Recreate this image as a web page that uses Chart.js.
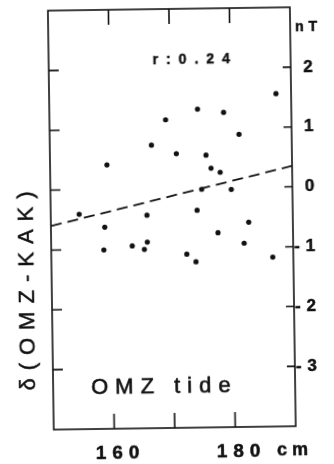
<!DOCTYPE html>
<html>
<head>
<meta charset="utf-8">
<script src="https://cdn.jsdelivr.net/npm/chart.js@4.4.1/dist/chart.umd.min.js"></script>
<style>
  html, body { margin: 0; padding: 0; background: #fff; }
  #wrap { width: 334px; height: 464px; overflow: hidden; }
  #tideChart { transform: rotate(-0.8deg); transform-origin: 50% 50%; }
</style>
</head>
<body>
<div id="wrap"><canvas id="tideChart" width="334" height="464"></canvas></div>
<script>
// tide height at OMZ (cm) vs difference OMZ-KAK (nT)
const tideCm = [169.2, 166.8, 159.4, 170.9, 187.5, 174.5, 178.8, 181.3, 175.8, 176.6, 178.1,
                154.7, 165.9, 158.9, 158.7, 163.4, 165.9, 165.4,
                175.0, 179.9, 174.2, 182.7, 177.6, 181.9, 172.4, 173.9, 186.6];
const deltaNt = [1.15, 0.73, 0.41, 0.58, 1.56, 1.32, 1.26, 0.89, 0.55, 0.33, 0.26,
                 -0.41, -0.44, -0.63, -1.01, -0.95, -0.89, -1.01,
                 -0.02, -0.03, -0.37, -0.58, -0.75, -0.93, -1.10, -1.23, -1.17];

// regression line (dashed)
const fitX = [150, 190];
const fitY = [-0.60, 0.35];

const xTickMarks = [160, 170, 180];
const xTickLabels = [160, 180];
const yTickMarks = [2, 1, 0, -1, -2, -3];

const INK = '#111';
const FONT = '"Liberation Sans", Arial, sans-serif';

const points = tideCm.map((x, i) => ({ x: x, y: deltaNt[i] }));
const fitLine = fitX.map((x, i) => ({ x: x, y: fitY[i] }));

function heavyText(ctx, txt, x, y, w) {
    ctx.fillText(txt, x, y);
    ctx.lineWidth = w;
    ctx.strokeText(txt, x, y);
}

// keep the plot box fixed, labels may overhang it
function fixBox(s) {
    s.paddingTop = 0; s.paddingBottom = 0;
    s.paddingLeft = 0; s.paddingRight = 0;
}

const framePlugin = {
    id: 'frame',
    beforeDraw(chart) {
        chart.ctx.letterSpacing = '6px';
    },
    beforeDatasetsDraw(chart) {
        chart.ctx.letterSpacing = '0px';
    },
    afterDraw(chart) {
        const ctx = chart.ctx;
        const { left, right, top, bottom } = chart.chartArea;
        const xs = chart.scales.x, ys = chart.scales.y;
        ctx.save();
        ctx.strokeStyle = INK;
        ctx.lineWidth = 1.6;
        ctx.strokeRect(left, top, right - left, bottom - top);

        // inward ticks
        ctx.beginPath();
        xTickMarks.forEach(v => {
            const px = xs.getPixelForValue(v);
            ctx.moveTo(px, top); ctx.lineTo(px, top + 15);
            ctx.moveTo(px, bottom); ctx.lineTo(px, bottom - 15);
        });
        yTickMarks.forEach(v => {
            const py = ys.getPixelForValue(v);
            ctx.moveTo(left, py); ctx.lineTo(left + 10, py);
            ctx.moveTo(right, py); ctx.lineTo(right - 8, py);
        });
        ctx.stroke();

        // annotations
        ctx.fillStyle = INK;
        ctx.textAlign = 'left';
        ctx.textBaseline = 'alphabetic';
        ctx.font = `bold 14px ${FONT}`;
        ctx.letterSpacing = '8px';
        heavyText(ctx, 'r:0.24', 155, 64, 0.5);
        ctx.letterSpacing = '5px';
        heavyText(ctx, 'nT', 298, 33, 0.5);
        ctx.font = `bold 18px ${FONT}`;
        heavyText(ctx, 'cm', 274, 457, 0.5);

        ctx.font = `22px ${FONT}`;
        ctx.letterSpacing = '7px';
        heavyText(ctx, 'OMZ tide', 89, 393, 0.6);

        ctx.translate(33, 289);
        ctx.rotate(-Math.PI / 2);
        ctx.font = `22px ${FONT}`;
        ctx.letterSpacing = '8px';
        ctx.textAlign = 'center';
        heavyText(ctx, 'δ(OMZ-KAK)', 4, 0, 0.5);
        ctx.restore();
        ctx.letterSpacing = '0px';
    }
};

new Chart(document.getElementById('tideChart'), {
    type: 'scatter',
    data: {
        datasets: [
            {
                data: points,
                pointRadius: 2.6,
                pointBackgroundColor: INK,
                pointBorderWidth: 0
            },
            {
                data: fitLine,
                showLine: true,
                borderColor: INK,
                borderWidth: 1.8,
                borderDash: [11, 6],
                pointRadius: 0
            }
        ]
    },
    options: {
        responsive: false,
        animation: false,
        events: [],
        layout: { padding: { left: 51, top: 9, right: 13, bottom: 0 } },
        plugins: { legend: { display: false }, tooltip: { enabled: false } },
        scales: {
            x: {
                type: 'linear', position: 'bottom', min: 150, max: 190,
                grid: { display: false }, border: { display: false },
                ticks: {
                    stepSize: 10, padding: 5, labelOffset: 6, color: INK, maxRotation: 0,
                    autoSkip: false, textStrokeColor: INK, textStrokeWidth: 0.5,
                    font: { family: FONT, weight: 'bold', size: 19 },
                    callback: v => xTickLabels.includes(v) ? String(v) : ''
                },
                afterFit: s => { fixBox(s); s.height = 36; }
            },
            y: {
                type: 'linear', position: 'right', min: -4, max: 3,
                grid: { display: false }, border: { display: false },
                ticks: {
                    stepSize: 1, padding: 20, color: INK, crossAlign: 'far',
                    autoSkip: false, textStrokeColor: INK, textStrokeWidth: 0.5,
                    font: { family: FONT, weight: 'bold', size: 17 },
                    callback: v => yTickMarks.includes(v) ? String(v) : ''
                },
                afterFit: s => { fixBox(s); s.width = 28; }
            }
        }
    },
    plugins: [framePlugin]
});
</script>
</body>
</html>
